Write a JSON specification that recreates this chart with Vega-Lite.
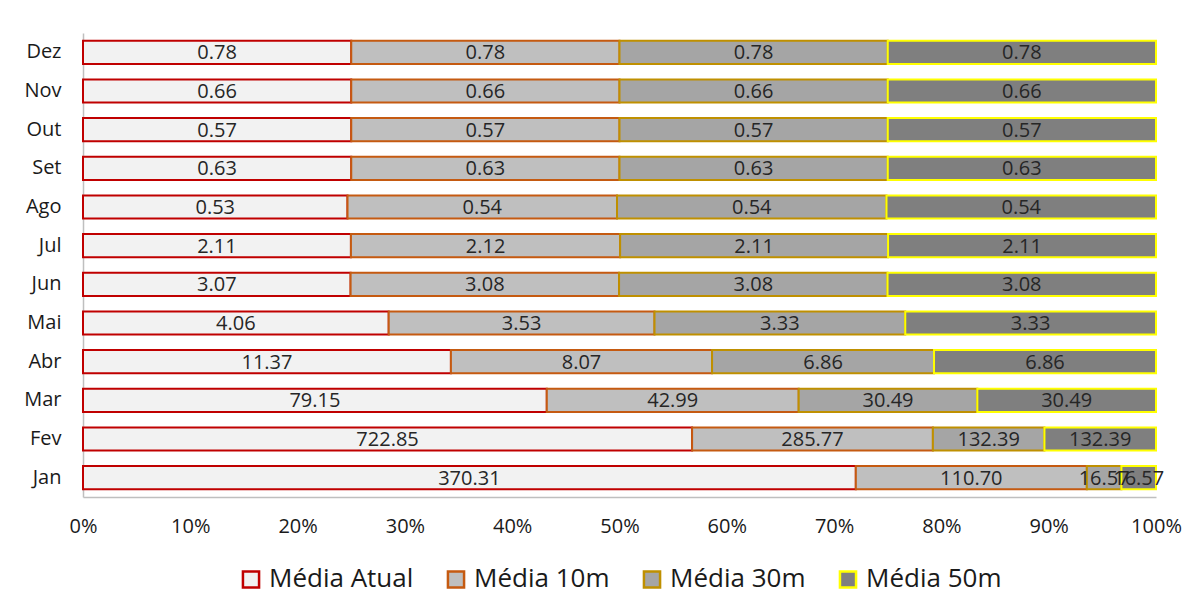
{
  "$schema": "https://vega.github.io/schema/vega-lite/v6.json",
  "autosize": "none",
  "width": 1073,
  "height": 464,
  "padding": {"left": 83, "top": 33, "right": 37, "bottom": 108},
  "background": "white",
  "config": {
    "font": "Open Sans",
    "view": {"stroke": null},
    "axis": {"labelColor": "#1a1a1a", "labelFont": "Open Sans", "domainColor": "#bfbfbf", "domainWidth": 1.5, "ticks": false, "grid": false, "title": null},
    "legend": {"layout": {"bottom": {"anchor": "middle"}}}
  },
  "data": {"values": [
    {"m":"Dez","s":"Média Atual","k":1,"v":0.78},{"m":"Dez","s":"Média 10m","k":2,"v":0.78},{"m":"Dez","s":"Média 30m","k":3,"v":0.78},{"m":"Dez","s":"Média 50m","k":4,"v":0.78},
    {"m":"Nov","s":"Média Atual","k":1,"v":0.66},{"m":"Nov","s":"Média 10m","k":2,"v":0.66},{"m":"Nov","s":"Média 30m","k":3,"v":0.66},{"m":"Nov","s":"Média 50m","k":4,"v":0.66},
    {"m":"Out","s":"Média Atual","k":1,"v":0.57},{"m":"Out","s":"Média 10m","k":2,"v":0.57},{"m":"Out","s":"Média 30m","k":3,"v":0.57},{"m":"Out","s":"Média 50m","k":4,"v":0.57},
    {"m":"Set","s":"Média Atual","k":1,"v":0.63},{"m":"Set","s":"Média 10m","k":2,"v":0.63},{"m":"Set","s":"Média 30m","k":3,"v":0.63},{"m":"Set","s":"Média 50m","k":4,"v":0.63},
    {"m":"Ago","s":"Média Atual","k":1,"v":0.53},{"m":"Ago","s":"Média 10m","k":2,"v":0.54},{"m":"Ago","s":"Média 30m","k":3,"v":0.54},{"m":"Ago","s":"Média 50m","k":4,"v":0.54},
    {"m":"Jul","s":"Média Atual","k":1,"v":2.11},{"m":"Jul","s":"Média 10m","k":2,"v":2.12},{"m":"Jul","s":"Média 30m","k":3,"v":2.11},{"m":"Jul","s":"Média 50m","k":4,"v":2.11},
    {"m":"Jun","s":"Média Atual","k":1,"v":3.07},{"m":"Jun","s":"Média 10m","k":2,"v":3.08},{"m":"Jun","s":"Média 30m","k":3,"v":3.08},{"m":"Jun","s":"Média 50m","k":4,"v":3.08},
    {"m":"Mai","s":"Média Atual","k":1,"v":4.06},{"m":"Mai","s":"Média 10m","k":2,"v":3.53},{"m":"Mai","s":"Média 30m","k":3,"v":3.33},{"m":"Mai","s":"Média 50m","k":4,"v":3.33},
    {"m":"Abr","s":"Média Atual","k":1,"v":11.37},{"m":"Abr","s":"Média 10m","k":2,"v":8.07},{"m":"Abr","s":"Média 30m","k":3,"v":6.86},{"m":"Abr","s":"Média 50m","k":4,"v":6.86},
    {"m":"Mar","s":"Média Atual","k":1,"v":79.15},{"m":"Mar","s":"Média 10m","k":2,"v":42.99},{"m":"Mar","s":"Média 30m","k":3,"v":30.49},{"m":"Mar","s":"Média 50m","k":4,"v":30.49},
    {"m":"Fev","s":"Média Atual","k":1,"v":722.85},{"m":"Fev","s":"Média 10m","k":2,"v":285.77},{"m":"Fev","s":"Média 30m","k":3,"v":132.39},{"m":"Fev","s":"Média 50m","k":4,"v":132.39},
    {"m":"Jan","s":"Média Atual","k":1,"v":370.31},{"m":"Jan","s":"Média 10m","k":2,"v":110.70},{"m":"Jan","s":"Média 30m","k":3,"v":16.57},{"m":"Jan","s":"Média 50m","k":4,"v":16.57}
  ]},
  "encoding": {
    "y": {"field": "m", "type": "nominal", "sort": ["Dez","Nov","Out","Set","Ago","Jul","Jun","Mai","Abr","Mar","Fev","Jan"],
      "scale": {"paddingInner": 0.4, "paddingOuter": 0.2},
      "axis": {"labelFontSize": 20, "labelPadding": 22, "domain": true}},
    "x": {"field": "v", "type": "quantitative", "stack": "normalize",
      "scale": {"domain": [0, 1], "nice": false},
      "axis": {"format": "%", "values": [0,0.1,0.2,0.3,0.4,0.5,0.6,0.7,0.8,0.9,1], "labelFontSize": 20, "labelPadding": 19, "labelFlush": false, "labelAlign": "center", "labelOverlap": false}},
    "order": {"field": "k", "type": "quantitative"},
    "detail": {"field": "s"}
  },
  "layer": [
    {
      "mark": {"type": "bar", "strokeWidth": 2},
      "encoding": {
        "fill": {"field": "s", "type": "nominal",
          "scale": {"domain": ["Média Atual","Média 10m","Média 30m","Média 50m"], "range": ["#f2f2f2","#bfbfbf","#a5a5a5","#7f7f7f"]},
          "legend": {"orient": "bottom", "direction": "horizontal", "title": null, "labelFontSize": 26, "labelColor": "#1a1a1a", "symbolType": "square", "symbolSize": 260, "symbolStrokeWidth": 2.5, "columnPadding": 28, "labelOffset": 5, "offset": 30}},
        "stroke": {"field": "s", "type": "nominal",
          "scale": {"domain": ["Média Atual","Média 10m","Média 30m","Média 50m"], "range": ["#c00000","#c55a11","#bf9000","#ffff00"]},
          "legend": {"orient": "bottom", "direction": "horizontal", "title": null, "labelFontSize": 26, "labelColor": "#1a1a1a", "symbolType": "square", "symbolSize": 260, "symbolStrokeWidth": 2.5, "columnPadding": 28, "labelOffset": 5, "offset": 30}}
      }
    },
    {
      "mark": {"type": "text", "fontSize": 20, "color": "#262626", "baseline": "middle", "dy": 1},
      "encoding": {
        "x": {"field": "v", "type": "quantitative", "stack": "normalize", "bandPosition": 0.5},
        "text": {"field": "v", "type": "quantitative", "format": ".2f"}
      }
    }
  ]
}
